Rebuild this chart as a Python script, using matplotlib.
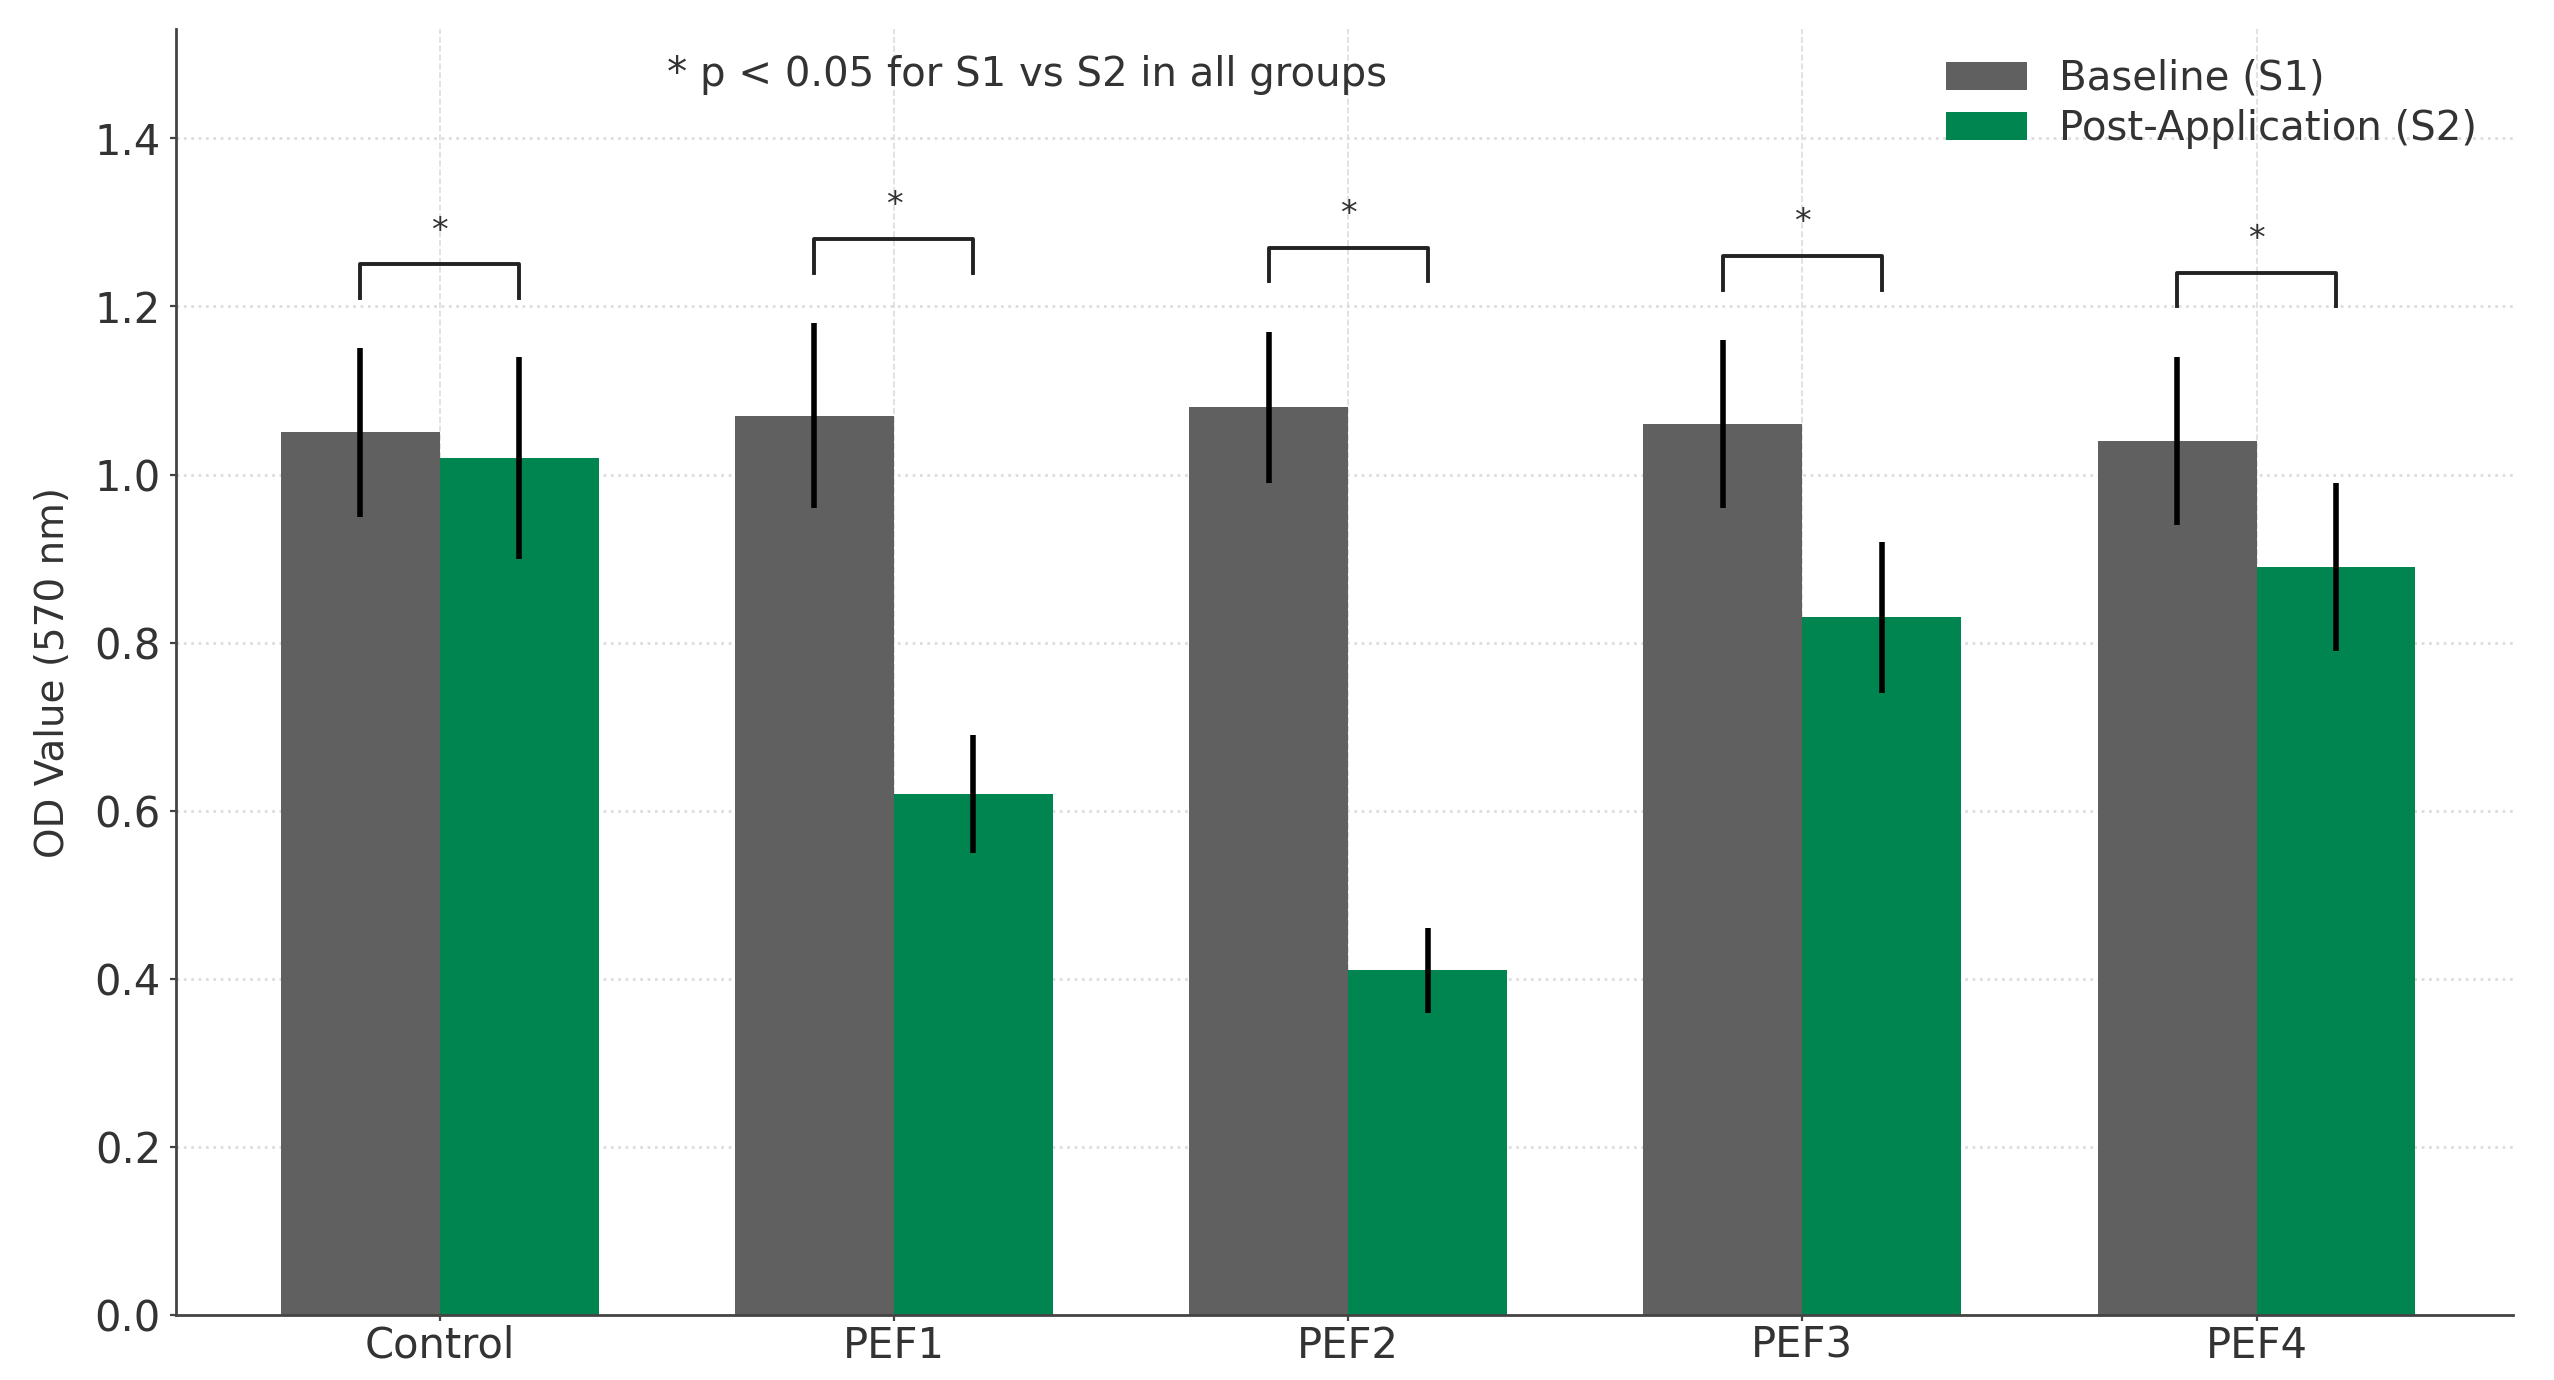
import numpy as np
import matplotlib
matplotlib.use("Agg")
import matplotlib.pyplot as plt

groups = ["Control", "PEF1", "PEF2", "PEF3", "PEF4"]
baseline = [1.05, 1.07, 1.08, 1.06, 1.04]
baseline_err = [0.10, 0.11, 0.09, 0.10, 0.10]
post = [1.02, 0.62, 0.41, 0.83, 0.89]
post_err = [0.12, 0.07, 0.05, 0.09, 0.10]

GRAY = "#606060"
GREEN = "#008450"
TXT = "#333333"

plt.rcParams["font.family"] = ["DejaVu Sans"]

fig = plt.figure(figsize=(12.77, 6.9), dpi=200)
ax = fig.add_axes([0.069, 0.047, 0.915, 0.932])

x = np.arange(len(groups))
w = 0.35
ax.bar(x - w / 2, baseline, w, yerr=baseline_err, color=GRAY,
       label="Baseline (S1)", error_kw=dict(ecolor="black", elinewidth=2, capsize=0))
ax.bar(x + w / 2, post, w, yerr=post_err, color=GREEN,
       label="Post-Application (S2)", error_kw=dict(ecolor="black", elinewidth=2, capsize=0))

# significance brackets
for i in range(len(groups)):
    top = max(baseline[i] + baseline_err[i], post[i] + post_err[i]) + 0.1
    x1, x2 = x[i] - w / 2, x[i] + w / 2
    ax.plot([x1, x1, x2, x2], [top - 0.04, top, top, top - 0.04],
            color="#222222", lw=1.4)
    ax.text(x[i], top + 0.02, "*", ha="center", va="bottom",
            fontsize=12, color=TXT)

ax.text(0.5, 1.475, "* p < 0.05 for S1 vs S2 in all groups", ha="left",
        va="center", fontsize=14.5, color=TXT)

ax.set_xticks(x)
ax.set_xticklabels(groups, fontsize=15, color=TXT)
yt = np.arange(0, 1.41, 0.2)
ax.set_yticks(yt)
ax.set_yticklabels([f"{v:.1f}" for v in yt], fontsize=15, color=TXT)
ax.set_ylim(0, 1.53)
ax.set_xlim(-0.58, 4.565)
ax.set_ylabel("OD Value (570 nm)", fontsize=14, color=TXT, labelpad=8)

ax.grid(True, axis="y", linestyle=":", color="#dddddd", linewidth=1)
ax.grid(True, axis="x", linestyle="--", color="#dddddd", linewidth=0.6)
ax.set_axisbelow(True)
for s in ["top", "right"]:
    ax.spines[s].set_visible(False)
for s in ["left", "bottom"]:
    ax.spines[s].set_color("#444444")
    ax.spines[s].set_linewidth(1.0)
ax.tick_params(length=2, color="#444444")
ax.tick_params(axis="x", pad=1.5)

ax.legend(loc="upper right", frameon=False, fontsize=14.5, labelspacing=0.25,
          handlelength=2.0, bbox_to_anchor=(1.0, 1.005), labelcolor=TXT)

fig.savefig("out.png", dpi=200)
